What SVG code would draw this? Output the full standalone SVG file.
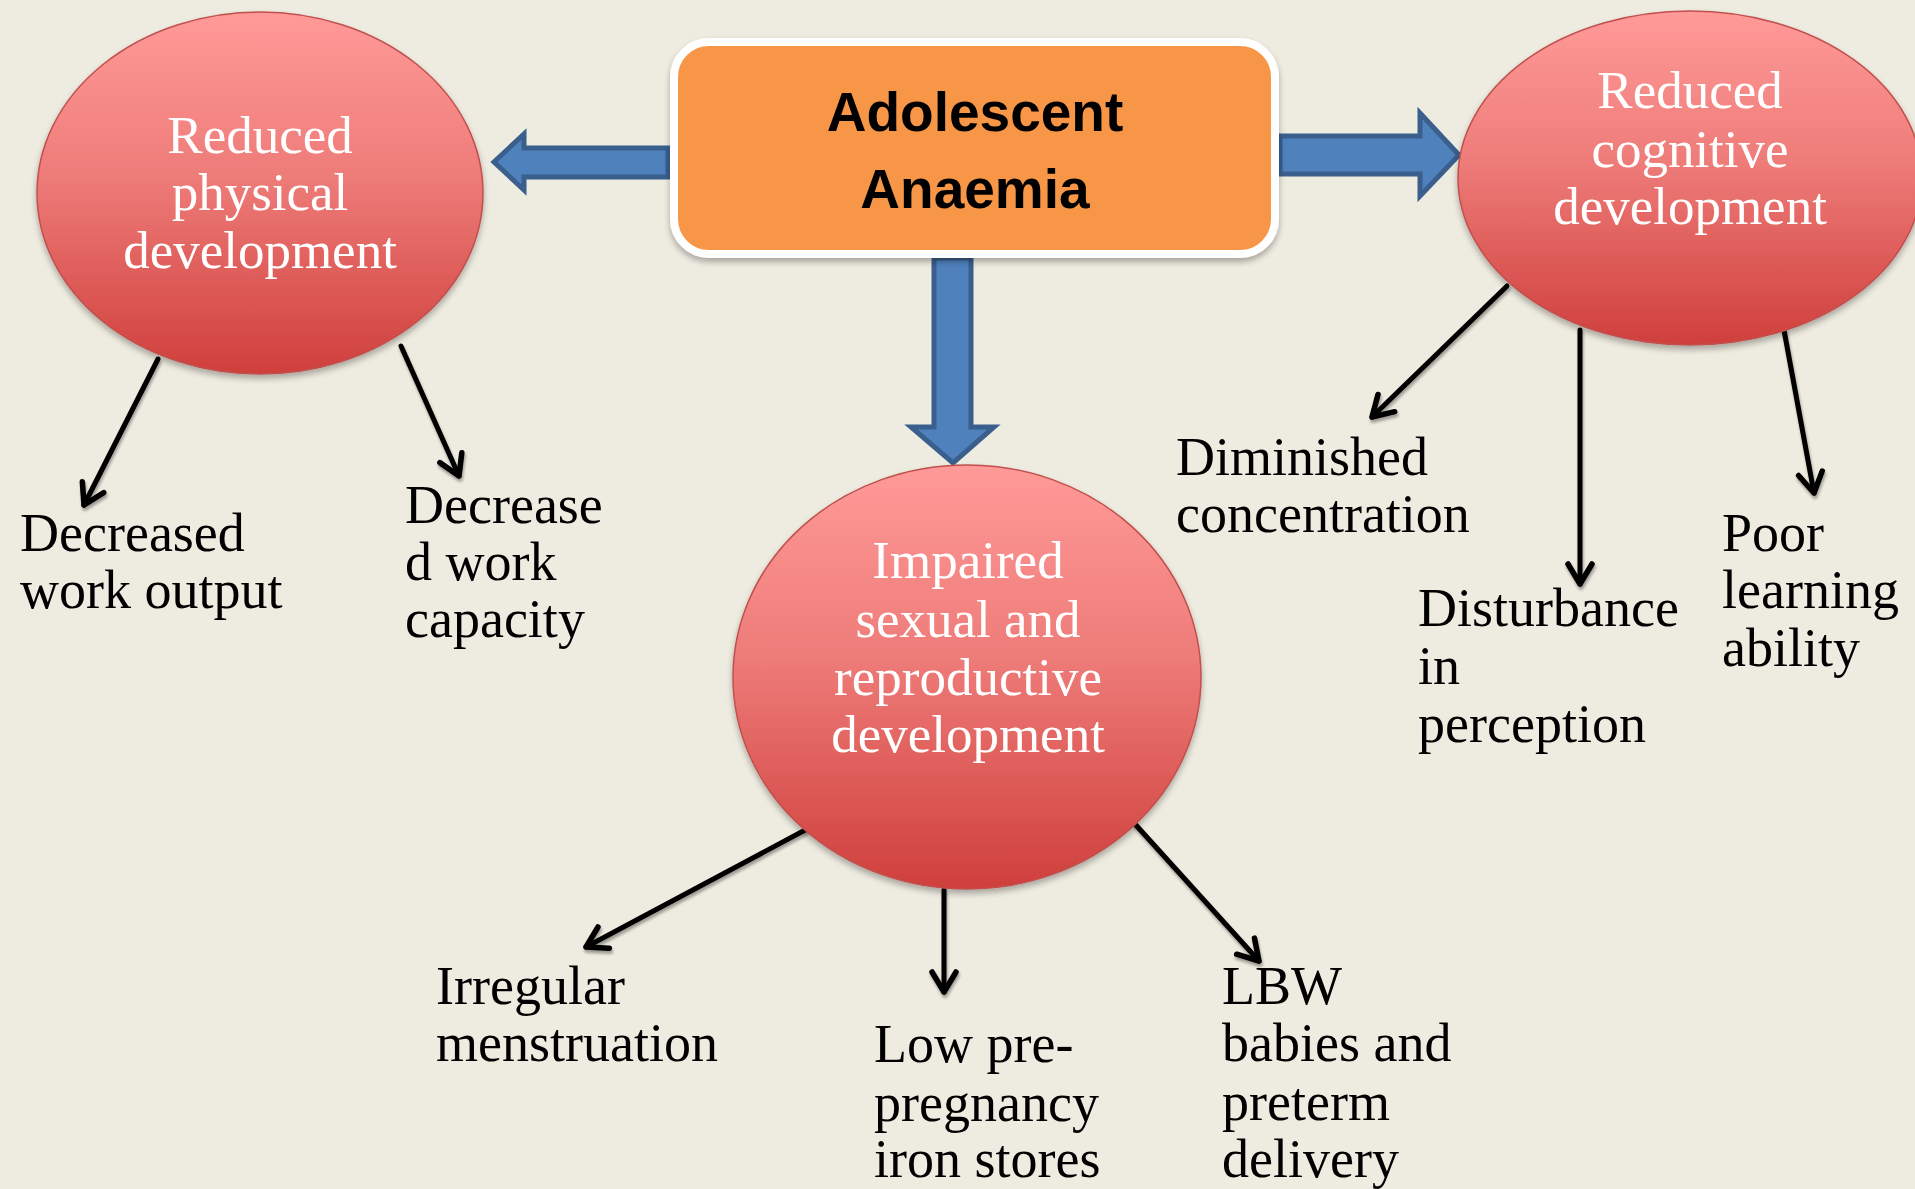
<svg xmlns="http://www.w3.org/2000/svg" width="1915" height="1189" viewBox="0 0 1915 1189">
<defs>
<linearGradient id="redGrad" x1="0" y1="0" x2="0" y2="1">
<stop offset="0" stop-color="#FF9A98"/>
<stop offset="0.45" stop-color="#EE7C79"/>
<stop offset="1" stop-color="#CF3F3C"/>
</linearGradient>
<filter id="shadow" x="-10%" y="-10%" width="120%" height="125%">
<feGaussianBlur in="SourceAlpha" stdDeviation="3"/>
<feOffset dx="0" dy="4" result="b"/>
<feComponentTransfer><feFuncA type="linear" slope="0.3"/></feComponentTransfer>
<feMerge><feMergeNode/><feMergeNode in="SourceGraphic"/></feMerge>
</filter>
<filter id="lshadow" x="-20%" y="-20%" width="140%" height="140%">
<feGaussianBlur in="SourceAlpha" stdDeviation="1.5"/>
<feOffset dx="1" dy="3" result="b"/>
<feComponentTransfer><feFuncA type="linear" slope="0.35"/></feComponentTransfer>
<feMerge><feMergeNode/><feMergeNode in="SourceGraphic"/></feMerge>
</filter>
<marker id="vhead" markerUnits="userSpaceOnUse" markerWidth="40" markerHeight="40" viewBox="-30 -20 40 40" refX="0" refY="0" orient="auto">
<path d="M-20,-12 L0,0 L-20,12" fill="none" stroke="#000" stroke-width="5.5" stroke-linecap="round" stroke-linejoin="round"/>
</marker>
</defs>
<style>
.bg{fill:#EEEBE0}
.blue{fill:#4F81BD;stroke:#3A5F8D;stroke-width:5;stroke-linejoin:miter}
.blk{stroke:#000;stroke-width:5;fill:none;stroke-linecap:round;marker-end:url(#vhead)}
.ell{fill:url(#redGrad);stroke:#C0504D;stroke-width:1.5}
.wt{font-family:"Liberation Serif","Times New Roman",serif;font-size:53px;fill:#FFFFFF;text-anchor:middle}
.lbl{font-family:"Liberation Serif","Times New Roman",serif;font-size:54px;fill:#000000}
.title{font-family:"Liberation Sans",Arial,sans-serif;font-size:55px;font-weight:bold;fill:#000000;text-anchor:middle}
</style>
<rect class="bg" x="0" y="0" width="1915" height="1189"/>

<g id="connectors">
<polygon class="blue" points="668,148 524,148 524,134 494,162 524,190 524,177 668,177"/>
<polygon class="blue" points="1280,136 1420,136 1420,113 1459,155 1420,196 1420,174 1280,174"/>
<polygon class="blue" points="934,258 934,427 911,427 953,463 994,427 971,427 971,258"/>
<g filter="url(#lshadow)">
<line class="blk" x1="158" y1="359" x2="84" y2="505"/>
<line class="blk" x1="401" y1="346" x2="459" y2="476"/>
<line class="blk" x1="1507" y1="286" x2="1372" y2="417"/>
<line class="blk" x1="1580" y1="330" x2="1580" y2="584"/>
<line class="blk" x1="1784" y1="330" x2="1814" y2="493"/>
<line class="blk" x1="807" y1="829" x2="586" y2="947"/>
<line class="blk" x1="944" y1="890" x2="944" y2="992"/>
<line class="blk" x1="1125" y1="813" x2="1259" y2="961"/>
</g>
</g>

<g id="node-anaemia">
<rect x="674" y="42" width="601" height="212" rx="35" ry="35" fill="#F79646" stroke="#FFFFFF" stroke-width="8" filter="url(#shadow)"/>
<text class="title" x="975" y="131">Adolescent</text>
<text class="title" x="975" y="208">Anaemia</text>
</g>

<g id="node-physical">
<ellipse class="ell" cx="260" cy="193" rx="223" ry="181" filter="url(#shadow)"/>
<text class="wt" x="260" y="153">Reduced</text>
<text class="wt" x="260" y="210">physical</text>
<text class="wt" x="260" y="268">development</text>
</g>

<g id="node-cognitive">
<ellipse class="ell" cx="1690" cy="178" rx="232" ry="167" filter="url(#shadow)"/>
<text class="wt" x="1690" y="108">Reduced</text>
<text class="wt" x="1690" y="167">cognitive</text>
<text class="wt" x="1690" y="224">development</text>
</g>

<g id="node-sexual">
<ellipse class="ell" cx="967" cy="677" rx="234" ry="212" filter="url(#shadow)"/>
<text class="wt" x="968" y="578">Impaired</text>
<text class="wt" x="968" y="637">sexual and</text>
<text class="wt" x="968" y="695">reproductive</text>
<text class="wt" x="968" y="752">development</text>
</g>

<g id="label-work-output">
<text class="lbl" x="20" y="551">Decreased</text>
<text class="lbl" x="20" y="608">work output</text>
</g>
<g id="label-work-capacity">
<text class="lbl" x="405" y="523">Decrease</text>
<text class="lbl" x="405" y="580">d work</text>
<text class="lbl" x="405" y="637">capacity</text>
</g>
<g id="label-concentration">
<text class="lbl" x="1176" y="475">Diminished</text>
<text class="lbl" x="1176" y="532">concentration</text>
</g>
<g id="label-perception">
<text class="lbl" x="1418" y="626">Disturbance</text>
<text class="lbl" x="1418" y="684">in</text>
<text class="lbl" x="1418" y="742">perception</text>
</g>
<g id="label-learning">
<text class="lbl" x="1722" y="551">Poor</text>
<text class="lbl" x="1722" y="608">learning</text>
<text class="lbl" x="1722" y="666">ability</text>
</g>
<g id="label-menstruation">
<text class="lbl" x="436" y="1004">Irregular</text>
<text class="lbl" x="436" y="1061">menstruation</text>
</g>
<g id="label-iron">
<text class="lbl" x="874" y="1062">Low pre-</text>
<text class="lbl" x="874" y="1121">pregnancy</text>
<text class="lbl" x="874" y="1177">iron stores</text>
</g>
<g id="label-lbw">
<text class="lbl" x="1222" y="1004">LBW</text>
<text class="lbl" x="1222" y="1061">babies and</text>
<text class="lbl" x="1222" y="1120">preterm</text>
<text class="lbl" x="1222" y="1177">delivery</text>
</g>
</svg>
